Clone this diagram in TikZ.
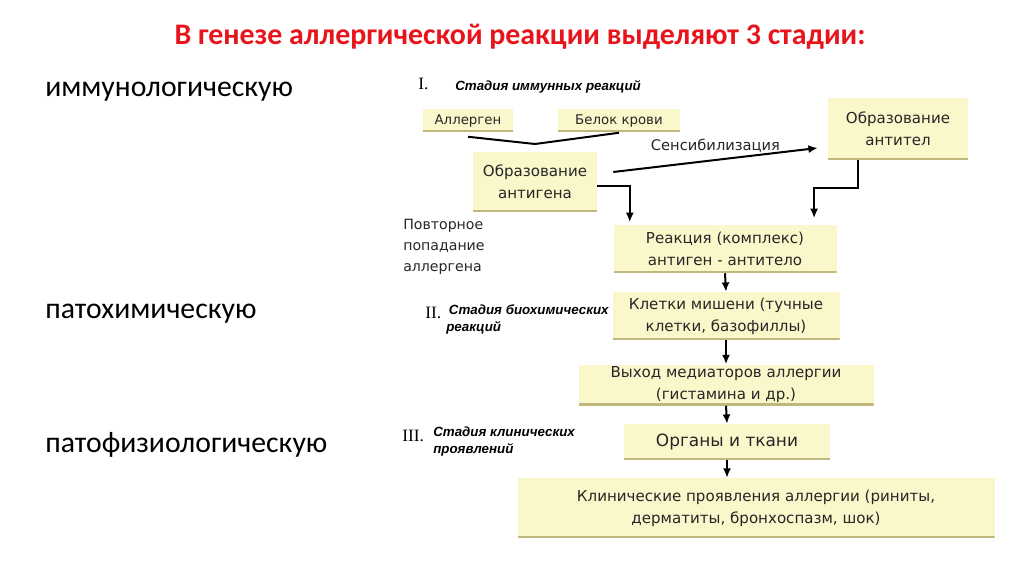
\documentclass[tikz,border=0pt]{standalone}
\usepackage{fontspec}
\setmainfont{DejaVu Sans}
\newfontfamily\calibri{Carlito}
\newfontfamily\arialf{Liberation Sans}
\newfontfamily\timesf{Liberation Serif}
\usetikzlibrary{arrows.meta,calc}
\definecolor{boxfill}{HTML}{FAF7CB}
\definecolor{boxline}{HTML}{BFB77E}
\definecolor{titlered}{HTML}{E8141B}
\definecolor{boxtext}{HTML}{262626}
\begin{document}
\begin{tikzpicture}[x=0.75pt,y=-0.75pt,
  box/.style={fill=boxfill, inner sep=0pt, align=center, text=boxtext,
    font=\fontsize{11.3pt}{16.5pt}\selectfont,
    path picture={\fill[boxline] ([yshift=1.6pt]path picture bounding box.south west) rectangle (path picture bounding box.south east);}},
  smallbox/.style={box, font=\fontsize{10pt}{12pt}\selectfont},
  arr/.style={-{Latex[length=7pt,width=6pt]}, line width=1.5pt},
  conn/.style={line width=1.5pt},
  stage/.style={font=\arialf\bfseries\itshape\fontsize{10pt}{12.75pt}\selectfont, inner sep=0pt, align=left},
  roman/.style={font=\timesf\fontsize{13pt}{15pt}\selectfont, inner sep=0pt},
  lefttext/.style={font=\calibri\fontsize{22.3pt}{26pt}\selectfont, inner sep=0pt, anchor=base west}
]
\useasboundingbox (0,0) rectangle (1024,574);
\fill[white] (0,0) rectangle (1024,574);

% title
\node[font=\calibri\bfseries\fontsize{22.4pt}{26pt}\selectfont, text=titlered, inner sep=0pt, anchor=base] (title) at (520,45) {В генезе аллергической реакции выделяют 3 стадии:};

% left labels
\node[lefttext] (l1) at (45,97) {иммунологическую};
\node[lefttext] (l2) at (45,318) {патохимическую};
\node[lefttext] (l3) at (45,452) {патофизиологическую};

% stage labels
\node[roman, anchor=base west] (r1) at (418,90) {I.};
\node[stage, anchor=base west] (s1) at (455,91) {Стадия иммунных реакций};
\node[roman, anchor=base west] (r2) at (425,318) {II.};
\node[stage, anchor=north west] (s2) at (446,304) {\hspace*{2pt}Стадия биохимических\\реакций};
\node[roman, anchor=base west] (r3) at (402,441) {III.};
\node[stage, anchor=north west] (s3) at (433,427) {Стадия клинических\\проявлений};

\node[font=\fontsize{10.6pt}{15.8pt}\selectfont, text=boxtext, inner sep=0pt, align=left, anchor=north west] (povt) at (403,219) {Повторное\\попадание\\аллергена};

% boxes
\node[smallbox, minimum width=67.5pt, minimum height=17.25pt] (allergen) at (468,121) {Аллерген};
\node[smallbox, minimum width=91.5pt, minimum height=17.25pt] (belok) at (619,121) {Белок крови};
\node[box, minimum width=93pt, minimum height=45pt] (antigen) at (535,182) {Образование\\антигена};
\node[box, minimum width=105pt, minimum height=46.5pt] (antitel) at (898,129) {Образование\\антител};
\node[box, minimum width=167.25pt, minimum height=36pt] (reakc) at (725,249) {Реакция (комплекс)\\антиген - антитело};
\node[box, minimum width=170.25pt, minimum height=36pt] (kletki) at (726,316) {Клетки мишени (тучные\\клетки, базофиллы)};
\node[box, minimum width=221.25pt, minimum height=30.75pt] (vyhod) at (726,385) {Выход медиаторов аллергии\\(гистамина и др.)};
\node[box, minimum width=154.5pt, minimum height=27pt, font=\fontsize{12.7pt}{15pt}\selectfont] (organy) at (727,442) {Органы и ткани};
\node[box, minimum width=357.75pt, minimum height=45pt] (klin) at (756,508) {Клинические проявления аллергии (риниты,\\дерматиты, бронхоспазм, шок)};

% connectors
\coordinate (v) at (535,144);
\draw[conn] ([yshift=-3pt]allergen.south) -- (v) -- (belok.south);

\draw[arr] ([xshift=12pt,yshift=7.5pt]antigen.east) -- node[pos=0.5, above=5pt, font=\fontsize{11pt}{13pt}\selectfont, text=boxtext, inner sep=0pt] (sens) {Сенсибилизация} ([xshift=-7.5pt,yshift=-14.25pt]antitel.west);

\draw[arr] ([yshift=-3pt]antigen.east) -| ([xshift=12.4pt,yshift=2pt]reakc.north west);
\draw[arr] ([xshift=-30pt]antitel.south) -- ++(0,28) -| ([xshift=-17pt,yshift=5pt]reakc.north east);

\draw[arr] (reakc.south) -- (kletki.north);
\draw[arr] (kletki.south) -- (vyhod.north);
\draw[arr] (vyhod.south) -- (organy.north);
\draw[arr] (organy.south) -- (organy.south |- klin.north);
\end{tikzpicture}
\end{document}
